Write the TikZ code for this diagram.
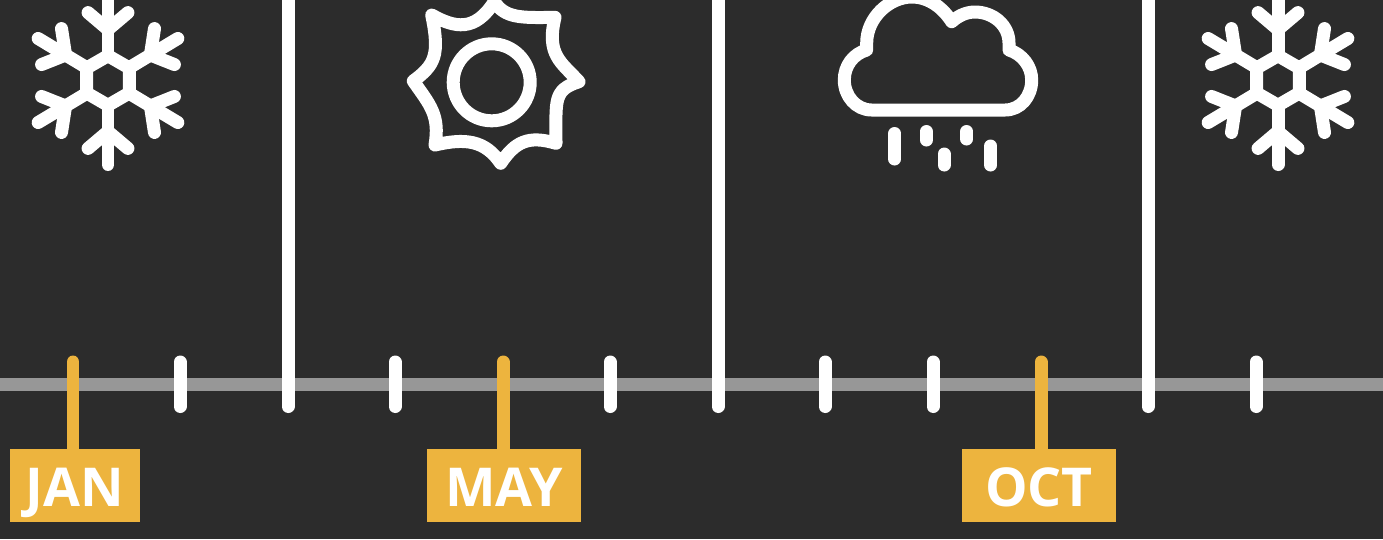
\documentclass[tikz,border=0pt]{standalone}
\usepackage{fontspec}
\setmainfont{Open Sans}
\definecolor{bgdark}{HTML}{2C2C2C}
\definecolor{axisgray}{HTML}{979797}
\definecolor{markgold}{HTML}{EDB43E}
\usetikzlibrary{positioning,calc}
\tikzset{
    icon/.style={draw=white, line width=0.26cm, line cap=round, line join=round},
    tick/.style={draw=white, line width=0.26cm, line cap=round},
    goldstem/.style={draw=markgold, line width=0.26cm, line cap=round},
    monthbox/.style={fill=markgold, text=white, inner sep=0pt, minimum height=1.46cm,
        text height=23.8pt, text depth=0pt, font=\fontsize{30.5}{36}\selectfont\bfseries},
}
\newcommand{\snowflake}[2]{%
    \begin{scope}[shift={(#1,#2)}]
        \draw[icon] (30:24.8) -- (90:24.8) -- (150:24.8) -- (210:24.8) -- (270:24.8) -- (330:24.8) -- cycle;
        \begin{scope}[xscale=0.96]
            \foreach \a in {30,90,...,330} {
                \draw[icon] (\a:24.8) -- (\a:84);
                \draw[icon] (\a:51) -- (\a+17:71);
                \draw[icon] (\a:51) -- (\a-17:71);
            }
        \end{scope}
    \end{scope}}

\begin{document}
\begin{tikzpicture}[x=0.02cm,y=-0.02cm]
    \useasboundingbox (0,0) rectangle (1383,539);
    \clip (0,0) rectangle (1383,539);
    \fill[bgdark] (0,0) rectangle (1383,539);

    % Timeline
    \draw[axisgray, line width=0.26cm] (0,384.5) -- (1383,384.5);
    \foreach \x in {180,395,610,825,933,1256}
        \draw[tick] (\x,362) -- (\x,406.5);

    % Season dividers
    \foreach \x in {288,718,1148}
        \draw[tick] (\x,-10) -- (\x,406.5);

    % Winter
    \snowflake{108}{80.5}
    \snowflake{1278}{80.5}

    % Sun
    \draw[icon] (491.7,82.3) circle (38.5);
    \draw[icon] (494.3,1.7) .. controls (505,18) and (520,18) .. (555,17.3)
        .. controls (546,55) and (561,62) .. (579,81.7)
        .. controls (553,90) and (556,100) .. (556,143.3)
        .. controls (528,135) and (515,142) .. (500.7,163.3)
        .. controls (485,140) and (465,138) .. (435,145)
        .. controls (440,115) and (430,105) .. (413.3,81)
        .. controls (435,65) and (440,55) .. (431.7,15)
        .. controls (455,28) and (475,32) .. (494.3,1.7) -- cycle;

    % Cloud
    \draw[icon] (871.7,110) -- (1005,110)
        .. controls (1021,110) and (1031.7,96) .. (1031.7,80)
        .. controls (1031.7,66) and (1022,54) .. (1009,50) -- (1009,43)
        .. controls (1009,25) and (993,12) .. (975,12)
        .. controls (966,12) and (958,16) .. (951.7,21.7)
        .. controls (943,8) and (929,-3) .. (912,-3)
        .. controls (889,-3) and (866.7,18) .. (866.7,43) -- (866.7,50)
        .. controls (853,54) and (844.3,66) .. (844.3,80)
        .. controls (844.3,96) and (856,110) .. (871.7,110) -- cycle;

    % Rain
    \draw[icon] (894.7,133.5) -- (894.7,159);
    \draw[icon] (926.3,131.5) -- (926.3,140);
    \draw[icon] (944,154) -- (944,165);
    \draw[icon] (966.7,131.5) -- (966.7,139);
    \draw[icon] (990.7,146) -- (990.7,165);

    % Month labels
    \node[monthbox, minimum width=2.6cm] (jan) at (75,485.5) {JAN};
    \node[monthbox, minimum width=3.08cm] (may) at (504,485.5) {MAY};
    \node[monthbox, minimum width=3.08cm] (oct) at (1039,485.5) {OCT};

    \coordinate (jantop) at (73,362);
    \coordinate (maytop) at (503,362);
    \coordinate (octtop) at (1041,362);
    \draw[goldstem] (jantop) -- (jantop |- jan.north);
    \draw[goldstem] (maytop) -- (maytop |- may.north);
    \draw[goldstem] (octtop) -- (octtop |- oct.north);
\end{tikzpicture}
\end{document}
